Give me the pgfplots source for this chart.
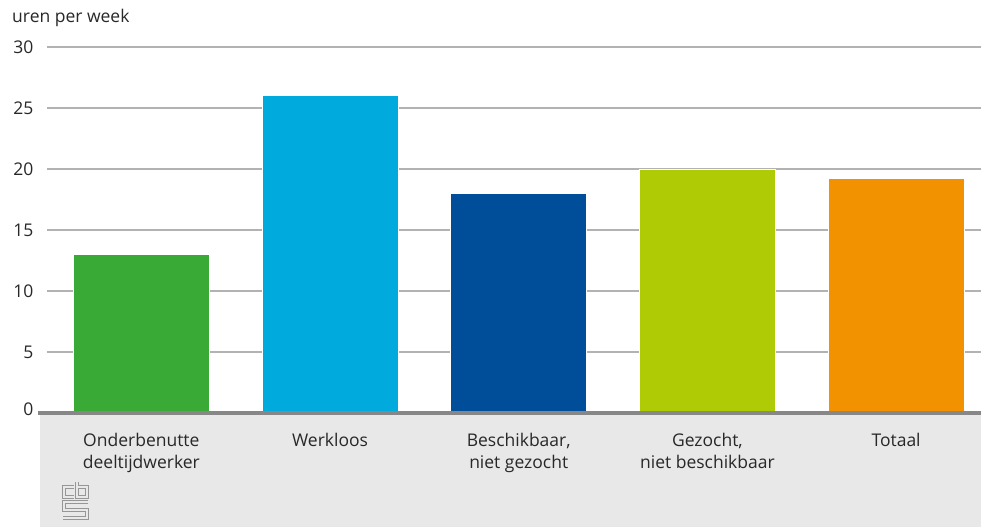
\documentclass[border=0pt]{standalone}
\usepackage{pgfplots}
\pgfplotsset{compat=1.18}
\usepackage{fontspec}
\setmainfont{Open Sans}

\definecolor{cgreen}{RGB}{57,170,53}
\definecolor{clblue}{RGB}{0,170,220}
\definecolor{cdblue}{RGB}{0,78,154}
\definecolor{clime}{RGB}{175,203,5}
\definecolor{corange}{RGB}{243,146,0}
\definecolor{bgray}{RGB}{232,232,232}
\definecolor{gridgray}{RGB}{178,178,178}
\definecolor{axgray}{RGB}{135,135,135}
\definecolor{logogray}{RGB}{150,150,150}
\definecolor{txt}{RGB}{40,40,40}

\begin{document}
\begin{tikzpicture}[x=1pt,y=1pt]
\useasboundingbox (-47,-114) rectangle (934,413);
% grey band under the axis
\fill[bgray] (-7,-114) rectangle (934,-2);
% logo
\foreach \w/\c in {3.6pt/logogray, 1.4pt/bgray} {
  \begin{scope}[draw=\c, line width=\w, line join=miter, line cap=butt]
    \draw (27,-74) -- (17,-74) -- (17,-84) -- (27,-84);
    \draw (30,-69) -- (30,-84) -- (40,-84) -- (40,-74) -- (30,-74);
    \draw (41,-89) -- (17,-89) -- (17,-97) -- (40,-97) -- (40,-105) -- (16,-105);
  \end{scope}
}
\begin{axis}[
    at={(0,0)}, anchor=south west,
    scale only axis,
    width=934pt, height=366pt,
    xmin=-0.5, xmax=4.45,
    ymin=0, ymax=30,
    ytick={0,5,...,30},
    xtick={0,1,2,3,4},
    xticklabels={{Onderbenutte\\deeltijdwerker},{Werkloos},{Beschikbaar,\\niet gezocht},{Gezocht,\\niet beschikbaar},{Totaal}},
    axis line style={draw=none},
    tick style={draw=none},
    ymajorgrids,
    grid style={gridgray, line width=1.2pt},
    yticklabel={\pgfmathparse{\tick==0 ? 1 : 0}\ifdim\pgfmathresult pt=1pt \raisebox{7pt}{0}\else\pgfmathprintnumber{\tick}\fi},
    yticklabel style={anchor=east, xshift=-10pt, font=\fontsize{17.5}{21}\selectfont, text=txt},
    xticklabel style={align=center, yshift=-12pt, font=\fontsize{17.5}{22}\selectfont, text=txt},
    /pgf/number format/assume math mode=true,
    ybar, bar width=0.722,
    clip=false,
]
\addplot[fill=cgreen, draw=white, line width=0.8pt, bar shift=0] coordinates {(0,13)};
\addplot[fill=clblue, draw=white, line width=0.8pt, bar shift=0] coordinates {(1,26)};
\addplot[fill=cdblue, draw=white, line width=0.8pt, bar shift=0] coordinates {(2,18)};
\addplot[fill=clime, draw=white, line width=0.8pt, bar shift=0] coordinates {(3,20)};
\addplot[fill=corange, draw=white, line width=0.8pt, bar shift=0] coordinates {(4,19.2)};
\end{axis}
\draw[axgray, line width=3.5pt] (-9,0) -- (934,0);
\node[anchor=west, text=txt, font=\fontsize{17.5}{21}\selectfont, inner sep=0pt] at (-35,395) {uren per week};
\end{tikzpicture}
\end{document}
